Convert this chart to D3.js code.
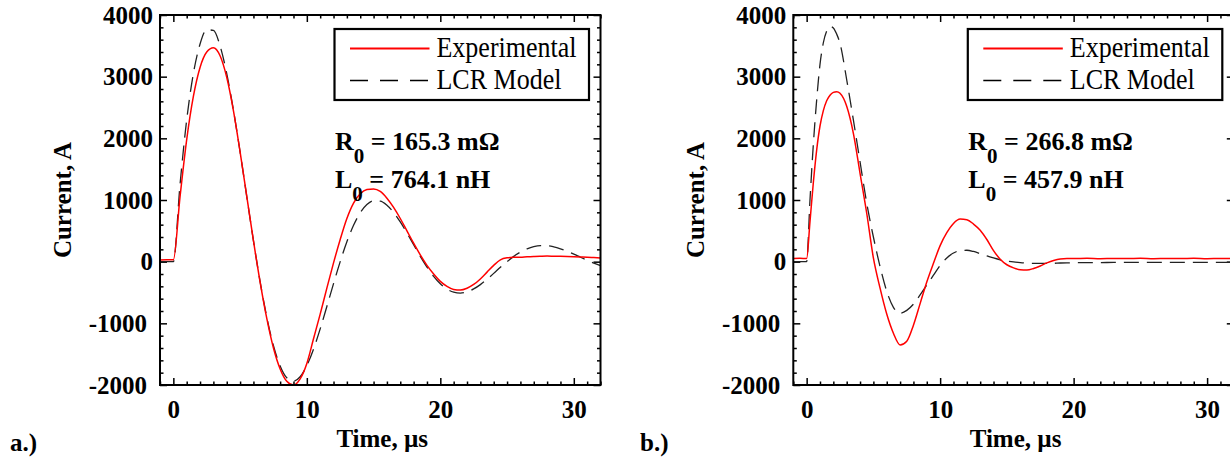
<!DOCTYPE html>
<html>
<head>
<meta charset="utf-8">
<script src="https://cdn.jsdelivr.net/npm/d3@7"></script>
<style>
  html, body { margin: 0; padding: 0; background: #fff; }
  svg { display: block; }
  text { font-family: "Liberation Serif", "Times New Roman", serif; fill: #000; }
</style>
</head>
<body>
<svg id="chart" width="1230" height="458"></svg>
<script>
// ---- Data ----
const timeA = [-1,-0.5,0,0.5,1,1.5,2,2.5,3,3.5,4,4.5,5,5.5,6,6.5,7,7.5,8,8.5,9,9.5,10,10.5,11,11.5,12,12.5,13,13.5,14,14.5,15,15.5,16,16.5,17,17.5,18,18.5,19,19.5,20,20.5,21,21.5,22,22.5,23,23.5,24,24.5,25,25.5,26,26.5,27,27.5,28,28.5,29,29.5,30,30.5,31,31.5,32];
const expA = [25,30,30,1050,1980,2680,3150,3400,3470,3340,2990,2450,1780,1060,340,-330,-920,-1400,-1740,-1940,-2000,-1900,-1650,-1250,-850,-430,-20,360,700,950,1100,1170,1180,1140,1030,880,700,500,300,110,-60,-200,-320,-400,-450,-460,-430,-370,-280,-170,-60,30,62,70,72,80,85,88,90,88,86,84,80,76,72,66,60];
const modelA = [0,0,0,1250,2300,3050,3530,3760,3750,3500,3050,2460,1780,1056,340,-323,-900,-1362,-1691,-1883,-1937,-1866,-1685,-1419,-1090,-727,-356,1,323,590,793,926,988,982,916,799,644,465,275,87,-87,-238,-359,-445,-495,-509,-490,-442,-372,-285,-190,-92,1,86,156,209,244,259,258,240,209,169,122,72,22,-23,-63];

const timeB = [-1,-0.5,0,0.25,0.5,0.75,1,1.25,1.5,1.75,2,2.25,2.5,3,3.5,4,4.5,5,5.5,6,6.5,7,7.5,8,8.5,9,9.5,10,10.5,11,11.5,12,12.5,13,13.5,14,14.5,15,15.5,16,16.5,17,17.5,18,18.5,19,19.5,20,21,22,23,24,25,26,27,28,29,30,31,32];
const expB = [50,55,50,650,1280,1810,2200,2450,2610,2700,2745,2757,2730,2520,2082,1433,785,60,-430,-850,-1161,-1350,-1290,-1030,-680,-330,-27,260,470,620,690,680,610,510,360,180,40,-50,-100,-130,-135,-110,-70,-20,20,45,52,50,54,48,52,50,55,48,52,50,54,48,52,50];
const modelB = [0,0,0,1000,1900,2620,3200,3550,3740,3815,3790,3690,3540,2950,2300,1620,950,400,-80,-480,-740,-835,-790,-690,-540,-380,-220,-60,60,140,180,185,165,130,95,60,30,10,-5,-15,-25,-28,-28,-28,-26,-22,-20,-18,-15,-14,-13,-12,-12,-11,-11,-10,-10,-10,-10,-10];

const xDomain = [-1, 32];
const yDomain = [-2000, 4000];
const xMajor = [0, 10, 20, 30];
const yMajor = [-2000, -1000, 0, 1000, 2000, 3000, 4000];
const seriesNames = ["Experimental", "LCR Model"];
const panelLabels = ["a.)", "b.)"];
const annotations = [
  { R: "165.3 mΩ", L: "764.1 nH" },
  { R: "266.8 mΩ", L: "457.9 nH" }
];
const xTitle = "Time, µs";
const yTitle = "Current, A";

// ---- Layout ----
const svg = d3.select("#chart");
const W = 440.5, H = 370, TOP = 15;
const panels = [
  { left: 160, t: timeA, exp: expA, model: modelA, label: panelLabels[0], labelX: 10, ann: annotations[0] },
  { left: 793.3, t: timeB, exp: expB, model: modelB, label: panelLabels[1], labelX: 640, ann: annotations[1] }
];

const x = d3.scaleLinear().domain(xDomain).range([0, W]);
const y = d3.scaleLinear().domain(yDomain).range([H, 0]);
const xMinor = d3.range(-1, 33, 1).filter(v => !xMajor.includes(v));
const yMinor = d3.range(-2000, 4001, 200).filter(v => !yMajor.includes(v));

panels.forEach((p, i) => {
  const g = svg.append("g").attr("transform", `translate(${p.left},${TOP})`);
  const clipId = "clip" + i;
  g.append("clipPath").attr("id", clipId).append("rect").attr("width", W).attr("height", H);

  const styleAxis = sel => {
    sel.select(".domain").remove();
    sel.selectAll(".tick line").attr("stroke", "#000").attr("stroke-width", 1.5);
  };
  const MJ = 7, MN = 3.5;
  const bx = g.append("g").attr("transform", `translate(0,${H})`)
    .call(d3.axisBottom(x).tickValues(xMajor).tickSizeInner(-MJ).tickSizeOuter(0).tickPadding(15.5).tickFormat(d => String(d)));
  styleAxis(bx);
  bx.selectAll("text").attr("font-size", 25).attr("font-weight", "bold").attr("font-family", "Liberation Serif");
  const bxm = g.append("g").attr("transform", `translate(0,${H})`)
    .call(d3.axisBottom(x).tickValues(xMinor).tickSizeInner(-MN).tickSizeOuter(0).tickFormat(""));
  styleAxis(bxm);
  const tx = g.append("g").call(d3.axisTop(x).tickValues(xMajor).tickSizeInner(-MJ).tickSizeOuter(0).tickFormat(""));
  styleAxis(tx);
  const txm = g.append("g").call(d3.axisTop(x).tickValues(xMinor).tickSizeInner(-MN).tickSizeOuter(0).tickFormat(""));
  styleAxis(txm);
  const ly = g.append("g")
    .call(d3.axisLeft(y).tickValues(yMajor).tickSizeInner(-MJ).tickSizeOuter(0).tickPadding(7).tickFormat(d => String(d)));
  styleAxis(ly);
  ly.selectAll("text").attr("font-size", 25).attr("font-weight", "bold").attr("font-family", "Liberation Serif")
    .attr("x", d => d < 0 ? -13 : -7);
  const lym = g.append("g").call(d3.axisLeft(y).tickValues(yMinor).tickSizeInner(-MN).tickSizeOuter(0).tickFormat(""));
  styleAxis(lym);
  const ry = g.append("g").attr("transform", `translate(${W},0)`)
    .call(d3.axisRight(y).tickValues(yMajor).tickSizeInner(-MJ).tickSizeOuter(0).tickFormat(""));
  styleAxis(ry);
  const rym = g.append("g").attr("transform", `translate(${W},0)`)
    .call(d3.axisRight(y).tickValues(yMinor).tickSizeInner(-MN).tickSizeOuter(0).tickFormat(""));
  styleAxis(rym);

  // curves
  const line = d3.line().x(d => x(d[0])).y(d => y(d[1])).curve(d3.curveMonotoneX);
  const plot = g.append("g").attr("clip-path", `url(#${clipId})`);
  plot.append("path").datum(p.t.map((t, k) => [t, p.model[k]]))
    .attr("d", line).attr("fill", "none").attr("stroke", "#222").attr("stroke-width", 1.3)
    .attr("stroke-dasharray", "15,8");
  plot.append("path").datum(p.t.map((t, k) => [t, p.exp[k]]))
    .attr("d", line).attr("fill", "none").attr("stroke", "#ff0000").attr("stroke-width", 1.5);

  // frame
  g.append("rect").attr("width", W).attr("height", H).attr("fill", "none")
    .attr("stroke", "#000").attr("stroke-width", 2);

  // legend
  const lg = g.append("g").attr("transform", "translate(174.5,14)");
  lg.append("rect").attr("width", 254.5).attr("height", 71).attr("fill", "#fff")
    .attr("stroke", "#000").attr("stroke-width", 2.2);
  const rows = [
    { name: seriesNames[0], color: "#ff0000", dash: null, y: 19.5 },
    { name: seriesNames[1], color: "#000", dash: "18,12", y: 51.5 }
  ];
  rows.forEach(r => {
    lg.append("line").attr("x1", 15.5).attr("x2", 95).attr("y1", r.y).attr("y2", r.y)
      .attr("stroke", r.color).attr("stroke-width", r.dash ? 1.6 : 2)
      .attr("stroke-dasharray", r.dash);
    lg.append("text").attr("transform", `translate(102,${r.y + 8.5}) scale(1,1.17)`)
      .attr("font-size", 26).text(r.name);
  });

  // annotations
  const addAnn = (sym, val, by) => {
    const t = g.append("text").attr("x", 175).attr("y", by)
      .attr("font-size", 26).attr("font-weight", "bold");
    t.append("tspan").text(sym);
    t.append("tspan").attr("font-size", 21).attr("dy", 13).text("0");
    t.append("tspan").attr("dy", -13).text(" = " + val);
  };
  addAnn("R", p.ann.R, 135);
  addAnn("L", p.ann.L, 172.5);

  // axis titles
  g.append("text").attr("x", W / 2 + 2).attr("y", 432).attr("text-anchor", "middle")
    .attr("font-size", 25).attr("font-weight", "bold").text(xTitle);
  g.append("text").attr("transform", `translate(-89,${H / 2}) rotate(-90)`).attr("text-anchor", "middle")
    .attr("font-size", 25).attr("font-weight", "bold").text(yTitle);

  // panel label
  svg.append("text").attr("x", p.labelX).attr("y", 451).attr("font-size", 25)
    .attr("font-weight", "bold").text(p.label);
});
</script>
</body>
</html>
